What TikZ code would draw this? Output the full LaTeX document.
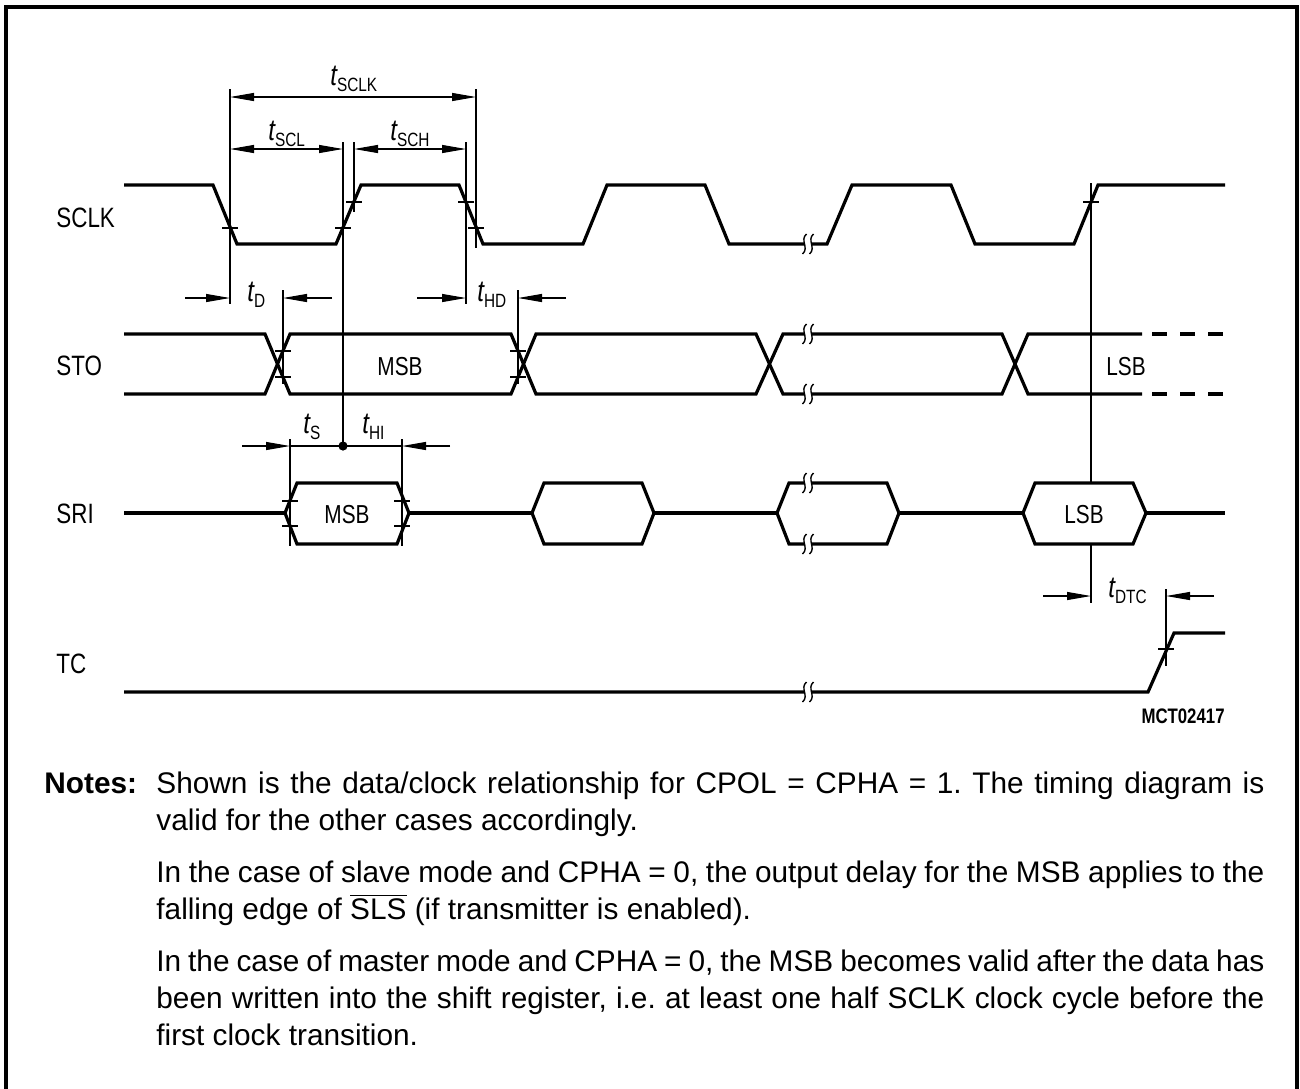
\documentclass[tikz,border=0pt]{standalone}
\usepackage{fontspec}
\setmainfont{Liberation Sans}
\newfontfamily\cond[FakeStretch=0.8]{Liberation Sans}
\usetikzlibrary{arrows.meta}
\frenchspacing
\tikzset{
 wave/.style={line width=1.6pt, line join=miter},
 thinl/.style={line width=0.55pt},
 dimarr/.style={line width=0.55pt, -{Triangle[length=12pt,width=4pt]}},
 dimboth/.style={line width=0.55pt, {Triangle[length=12pt,width=4pt]}-{Triangle[length=12pt,width=4pt]}},
 sig/.style={anchor=base west, inner sep=0pt, font=\cond\fontsize{14}{14}\selectfont},
 dat/.style={anchor=base, inner sep=0pt, font=\cond\fontsize{13}{13}\selectfont},
 tlab/.style={anchor=base west, inner sep=0pt},
 note/.style={anchor=base west, inner sep=0pt, font=\fontsize{14.9}{18}\selectfont},
}
\newcommand\tsub[1]{{\cond\fontsize{15}{15}\selectfont\itshape t}\raisebox{-3.4pt}{\cond\fontsize{9.6}{9.6}\selectfont #1}}
\newcommand\hTk[2]{\draw[thinl] ({#1-8},#2) -- ({#1+8},#2);}
\newcommand\brkmark[2]{%
 \fill[white] ({#1-3.5},{#2-3}) rectangle ({#1+3.5},{#2+3});
 \draw[line width=0.7pt] ({#1-1.5},{#2-10}) .. controls ({#1-8.5},{#2-4}) and ({#1+1.5},{#2+4}) .. ({#1-5.5},{#2+10});
 \draw[line width=0.7pt] ({#1+5.5},{#2-10}) .. controls ({#1-1.5},{#2-4}) and ({#1+8.5},{#2+4}) .. ({#1+1.5},{#2+10});
}
\begin{document}
\begin{tikzpicture}[x=0.5pt,y=-0.5pt]
\useasboundingbox (0,0) rectangle (1300,1088);
% frame
\draw[line width=1.8pt] (6,1095) -- (6,7) -- (1297,7) -- (1297,1095);

% signal names
\node[sig] (nsclk) at (56,227) {SCLK};
\node[sig] (nsto) at (56,375) {STO};
\node[sig] (nsri) at (56,523) {SRI};
\node[sig] (ntc) at (56,673) {TC};

% reference lines (drawn first, so the LSB bus hides the long one)
\draw[thinl] (230,89) -- (230,304);
\draw[thinl] (343,142) -- (343,446);
\draw[thinl] (354,142) -- (354,212);
\draw[thinl] (466,142) -- (466,304);
\draw[thinl] (476,89) -- (476,248);
\draw[thinl] (283,290) -- (283,384);
\draw[thinl] (518,290) -- (518,384);
\draw[thinl] (1091,183) -- (1091,603);
\draw[thinl] (1166,589) -- (1166,666);
\draw[thinl] (290,439) -- (290,546);
\draw[thinl] (402,439) -- (402,546);

% SCLK
\draw[wave] (124,185) -- (213,185) -- (237,244) -- (336,244) -- (361,185) -- (459,185) -- (483,244) -- (583,244) -- (607,185) -- (705,185) -- (729,244) -- (827,244) -- (852,185) -- (951,185) -- (975,244) -- (1074,244) -- (1098,185) -- (1225,185);

% STO
\draw[wave] (124,334) -- (265,334) -- (290,394) -- (511,394) -- (536,334) -- (756,334) -- (783,394) -- (1002,394) -- (1028,334) -- (1142,334);
\draw[wave] (124,394) -- (265,394) -- (290,334) -- (511,334) -- (536,394) -- (756,394) -- (783,334) -- (1002,334) -- (1028,394) -- (1142,394);
\draw[wave, dash pattern=on 7.5pt off 6.5pt] (1152,334) -- (1225,334);
\draw[wave, dash pattern=on 7.5pt off 6.5pt] (1152,394) -- (1225,394);

% SRI
\draw[wave] (124,513) -- (285,513);
\draw[wave] (285,513) -- (297,483) -- (397,483) -- (409,513) -- (397,544) -- (297,544) -- cycle;
\draw[wave] (409,513) -- (532,513);
\draw[wave] (532,513) -- (544,483) -- (642,483) -- (654,513) -- (642,544) -- (544,544) -- cycle;
\draw[wave] (654,513) -- (777,513);
\draw[wave] (777,513) -- (789,483) -- (887,483) -- (899,513) -- (887,544) -- (789,544) -- cycle;
\draw[wave] (899,513) -- (1023,513);
\draw[wave, fill=white] (1023,513) -- (1035,483) -- (1133,483) -- (1146,513) -- (1133,544) -- (1035,544) -- cycle;
\draw[wave] (1146,513) -- (1225,513);

% TC
\draw[wave] (124,692) -- (1148,692) -- (1174,633) -- (1225,633);

% break marks
\brkmark{808}{244}
\brkmark{808}{334}
\brkmark{808}{394}
\brkmark{808}{483}
\brkmark{808}{544}
\brkmark{808}{692}

% data labels
\node[dat] (msb1) at (400,375) {MSB};
\node[dat] (lsb1) at (1126,375) {LSB};
\node[dat] (msb2) at (347,523) {MSB};
\node[dat] (lsb2) at (1084,523) {LSB};

% ticks
\hTk{230}{228}
\hTk{343}{228}
\hTk{354}{202}
\hTk{466}{202}
\hTk{476}{228}
\hTk{1091}{202}
\hTk{283}{351}
\hTk{283}{377}
\hTk{518}{351}
\hTk{518}{377}
\hTk{290}{501}
\hTk{290}{526}
\hTk{402}{501}
\hTk{402}{526}
\hTk{1166}{649}

% dimension arrows
\coordinate (sclkA) at (230,97);
\coordinate (sclkB) at (476,97);
\draw[dimboth] (sclkA) -- (sclkB);
\coordinate (sclA) at (230,149);
\coordinate (sclB) at (343,149);
\draw[dimboth] (sclA) -- (sclB);
\coordinate (schA) at (354,149);
\coordinate (schB) at (466,149);
\draw[dimboth] (schA) -- (schB);

\coordinate (tdL0) at (185,298);
\coordinate (tdL1) at (230,298);
\coordinate (tdR0) at (332,298);
\coordinate (tdR1) at (283,298);
\draw[dimarr] (tdL0) -- (tdL1);
\draw[dimarr] (tdR0) -- (tdR1);

\coordinate (thdL0) at (417,298);
\coordinate (thdL1) at (466,298);
\coordinate (thdR0) at (566,298);
\coordinate (thdR1) at (518,298);
\draw[dimarr] (thdL0) -- (thdL1);
\draw[dimarr] (thdR0) -- (thdR1);

\coordinate (tsL0) at (242,446);
\coordinate (tsL1) at (290,446);
\coordinate (thiR0) at (450,446);
\coordinate (thiR1) at (402,446);
\draw[dimarr] (tsL0) -- (tsL1);
\draw[thinl] (tsL1) -- (thiR1);
\draw[dimarr] (thiR0) -- (thiR1);
\fill (343,446) circle[radius=2.3pt];

\coordinate (dtcL0) at (1043,596);
\coordinate (dtcL1) at (1091,596);
\coordinate (dtcR0) at (1214,596);
\coordinate (dtcR1) at (1166,596);
\draw[dimarr] (dtcL0) -- (dtcL1);
\draw[dimarr] (dtcR0) -- (dtcR1);

% timing labels
\node[tlab] (lsclk) at (330,85) {\tsub{SCLK}};
\node[tlab] (lscl) at (268,140) {\tsub{SCL}};
\node[tlab] (lsch) at (390,140) {\tsub{SCH}};
\node[tlab] (ld) at (247,301) {\tsub{D}};
\node[tlab] (lhd) at (477,301) {\tsub{HD}};
\node[tlab] (ls) at (303,433) {\tsub{S}};
\node[tlab] (lhi) at (362,433) {\tsub{HI}};
\node[tlab] (ldtc) at (1108,597) {\tsub{DTC}};

% figure id
\node[anchor=base east, inner sep=0pt, font=\cond\bfseries\fontsize{10.5}{10.5}\selectfont] (mct) at (1225,723) {MCT02417};

% notes
\node[note, font=\bfseries\fontsize{14.9}{18}\selectfont] (notes) at (44,793) {Notes:};
\node[note] (n1) at (156,793) {\makebox[554pt][s]{Shown is the data/clock relationship for CPOL = CPHA = 1. The timing diagram is}};
\node[note] (n2) at (156,830) {valid for the other cases accordingly.};
\node[note] (n3) at (156,882) {\makebox[554pt][s]{In the case of slave mode and CPHA = 0, the output delay for the MSB applies to the}};
\node[note] (n4) at (156,919) {falling edge of $\overline{\hbox{SLS}}$ (if transmitter is enabled).};
\node[note] (n5) at (156,971) {\makebox[554pt][s]{In the case of master mode and CPHA = 0, the MSB becomes valid after the data has}};
\node[note] (n6) at (156,1008) {\makebox[554pt][s]{been written into the shift register, i.e. at least one half SCLK clock cycle before the}};
\node[note] (n7) at (156,1045) {first clock transition.};
\end{tikzpicture}
\end{document}
